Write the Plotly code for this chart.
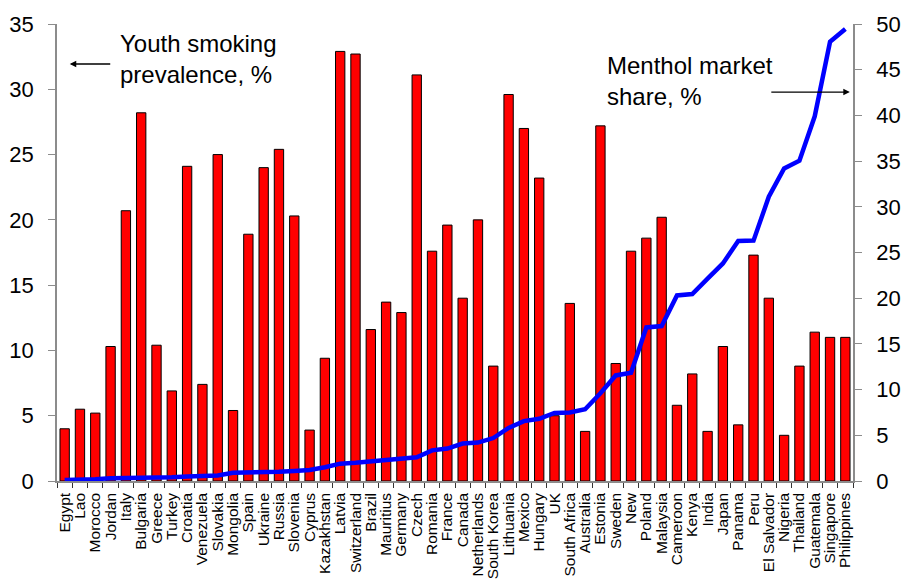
import plotly.graph_objects as go

# Countries, ordered by menthol market share
countries = [
    "Egypt", "Lao", "Morocco", "Jordan", "Italy", "Bulgaria", "Greece", "Turkey",
    "Croatia", "Venezuela", "Slovakia", "Mongolia", "Spain", "Ukraine", "Russia",
    "Slovenia", "Cyprus", "Kazakhstan", "Latvia", "Switzerland", "Brazil",
    "Mauritius", "Germany", "Czech", "Romania", "France", "Canada", "Netherlands",
    "South Korea", "Lithuania", "Mexico", "Hungary", "UK", "South Africa",
    "Australia", "Estonia", "Sweden", "New", "Poland", "Malaysia", "Cameroon",
    "Kenya", "India", "Japan", "Panama", "Peru", "El Salvador", "Nigeria",
    "Thailand", "Guatemala", "Singapore", "Philippines",
]

# Youth smoking prevalence, % (left axis)
youth_smoking = [
    4.0, 5.5, 5.2, 10.3, 20.7, 28.2, 10.4, 6.9,
    24.1, 7.4, 25.0, 5.4, 18.9, 24.0, 25.4,
    20.3, 3.9, 9.4, 32.9, 32.7, 11.6,
    13.7, 12.9, 31.1, 17.6, 19.6, 14.0, 20.0,
    8.8, 29.6, 27.0, 23.2, 5.0, 13.6,
    3.8, 27.2, 9.0, 17.6, 18.6, 20.2, 5.8,
    8.2, 3.8, 10.3, 4.3, 17.3, 14.0, 3.5,
    8.8, 11.4, 11.0, 11.0,
]

# Menthol market share, % (right axis)
menthol_share = [
    0.1, 0.1, 0.2, 0.3, 0.3, 0.3, 0.4, 0.4,
    0.5, 0.5, 0.6, 0.9, 0.9, 0.95, 1.0,
    1.1, 1.2, 1.5, 1.9, 2.0, 2.15,
    2.25, 2.5, 2.6, 3.35, 3.55, 4.1, 4.2,
    4.7, 5.8, 6.55, 6.8, 7.45, 7.5,
    7.85, 9.6, 11.55, 11.85, 16.8, 16.95, 20.3,
    20.45, 22.15, 23.8, 26.25, 26.3, 31.1, 34.2,
    35.05, 39.9, 48.05, 49.45,
]

FONT = "Liberation Sans, Arial, sans-serif"
AXIS_GREY = "#8c8c8c"

fig = go.Figure()

fig.add_trace(go.Bar(
    x=countries,
    y=youth_smoking,
    marker=dict(color="#ff0000", line=dict(color="#000000", width=1)),
    name="Youth smoking prevalence, %",
    yaxis="y",
))

fig.add_trace(go.Scatter(
    x=countries,
    y=menthol_share,
    mode="lines",
    line=dict(color="#0000ff", width=4.5),
    name="Menthol market share, %",
    yaxis="y2",
))

fig.update_layout(
    width=905,
    height=579,
    margin=dict(l=57, r=52, t=24, b=98),
    paper_bgcolor="white",
    plot_bgcolor="white",
    showlegend=False,
    bargap=0.39,
    font=dict(family=FONT, color="black"),
    xaxis=dict(
        type="category",
        automargin=False,
        tickmode="array",
        tickvals=countries,
        ticktext=countries,
        tickangle=-90,
        tickfont=dict(size=15.5, family=FONT, color="black"),
        ticklabelstandoff=4,
        tickson="boundaries",
        ticks="outside",
        ticklen=5,
        tickcolor="#333333",
        showline=True,
        linecolor=AXIS_GREY,
        linewidth=1.5,
        showgrid=False,
        zeroline=False,
    ),
    yaxis=dict(
        range=[0, 35],
        automargin=False,
        tickmode="linear",
        tick0=0,
        dtick=5,
        ticks="outside",
        ticklen=7,
        tickcolor=AXIS_GREY,
        ticklabelstandoff=10,
        tickfont=dict(size=22, family=FONT, color="black"),
        showline=True,
        linecolor=AXIS_GREY,
        linewidth=1.5,
        showgrid=False,
        zeroline=False,
    ),
    yaxis2=dict(
        range=[0, 50],
        automargin=False,
        overlaying="y",
        side="right",
        tickmode="linear",
        tick0=0,
        dtick=5,
        ticks="outside",
        ticklen=7,
        tickcolor=AXIS_GREY,
        ticklabelstandoff=10,
        tickfont=dict(size=22, family=FONT, color="black"),
        showline=True,
        linecolor=AXIS_GREY,
        linewidth=1.5,
        showgrid=False,
        zeroline=False,
    ),
)

# Series labels with pointers to their axes
fig.add_annotation(
    xref="paper", yref="paper", x=0.0766, y=0.923,
    xanchor="left", yanchor="middle", align="left",
    text="Youth smoking<br>prevalence, %",
    showarrow=False,
    font=dict(size=24, family=FONT, color="black"),
)
fig.add_annotation(
    xref="paper", yref="paper", x=0.016, y=0.9125,
    ax=42, ay=0, axref="pixel", ayref="pixel",
    text="", showarrow=True,
    arrowhead=2, arrowsize=1, arrowwidth=1.3, arrowcolor="black",
)
fig.add_annotation(
    xref="paper", yref="paper", x=0.689, y=0.876,
    xanchor="left", yanchor="middle", align="left",
    text="Menthol market<br>share, %",
    showarrow=False,
    font=dict(size=24, family=FONT, color="black"),
)
fig.add_annotation(
    xref="paper", yref="paper", x=0.996, y=0.851,
    ax=-80, ay=0, axref="pixel", ayref="pixel",
    text="", showarrow=True,
    arrowhead=2, arrowsize=1, arrowwidth=1.3, arrowcolor="black",
)

fig.write_html("out.html")
